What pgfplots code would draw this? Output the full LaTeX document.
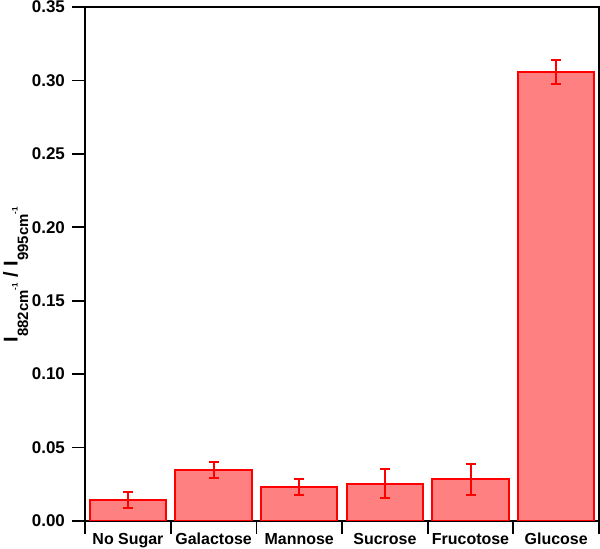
\documentclass[border=0pt]{standalone}
\usepackage{fontspec}
\setmainfont{Liberation Sans}
\usepackage{pgfplots}
\pgfplotsset{compat=1.18}
\definecolor{barfill}{HTML}{FF8080}
\definecolor{baredge}{HTML}{FF0000}

% intensity ratio subscript: I_{<n>cm^-1}
\newcommand{\Isub}[1]{I\raisebox{-10.5bp}{\fontsize{15}{15}\selectfont\bfseries #1cm\raisebox{10.5bp}{\fontsize{8}{8}\selectfont\bfseries -1}}}

\pgfplotstableread{
x   val     err
0   0.0143  0.0056
1   0.0346  0.0052
2   0.0232  0.0055
3   0.0254  0.0098
4   0.0284  0.0105
5   0.3057  0.0080
}\sugars

\begin{document}
\begin{tikzpicture}[x=1bp,y=1bp]
\useasboundingbox (-85bp,-28bp) rectangle (514bp,520bp);
\begin{axis}[
    at={(0,0)}, anchor=south west,
    scale only axis,
    width=513bp, height=513bp,
    xmin=-0.5, xmax=5.5,
    ymin=0, ymax=0.35,
    xtick={-0.5,0.5,1.5,2.5,3.5,4.5,5.5},
    xticklabels={No Sugar,Galactose,Mannose,Sucrose,Frucotose,Glucose},
    x tick label as interval,
    ytick={0,0.05,...,0.35},
    /pgf/number format/assume math mode=true,
    tick align=outside,
    xtick pos=bottom, ytick pos=left,
    major tick length=13bp,
    tick style={black, line width=1.8bp},
    axis line style={black, line width=1.8bp},
    ticklabel style={inner sep=0pt},
    xticklabel style={font=\fontsize{16}{18}\selectfont\bfseries, yshift=1bp},
    yticklabel style={font=\fontsize{17}{19}\selectfont\bfseries, xshift=-7bp,
        /pgf/number format/fixed, /pgf/number format/fixed zerofill,
        /pgf/number format/precision=2},
    ylabel={\Isub{882} / \Isub{995}},
    ylabel style={font=\fontsize{20}{22}\selectfont\bfseries,
        at={(axis description cs:-0.1598,0.479)}, anchor=north, inner sep=0pt},
    ]
    \addplot[ybar, bar width=0.89, color=baredge, fill=barfill, draw=baredge, line width=2bp,
        error bars/.cd, y dir=both, y explicit,
        error bar style={color=baredge, line width=2bp},
        error mark options={rotate=90, color=baredge, mark size=5bp, line width=2bp}]
        table[x=x, y=val, y error=err]{\sugars};
\end{axis}
\end{tikzpicture}
\end{document}
